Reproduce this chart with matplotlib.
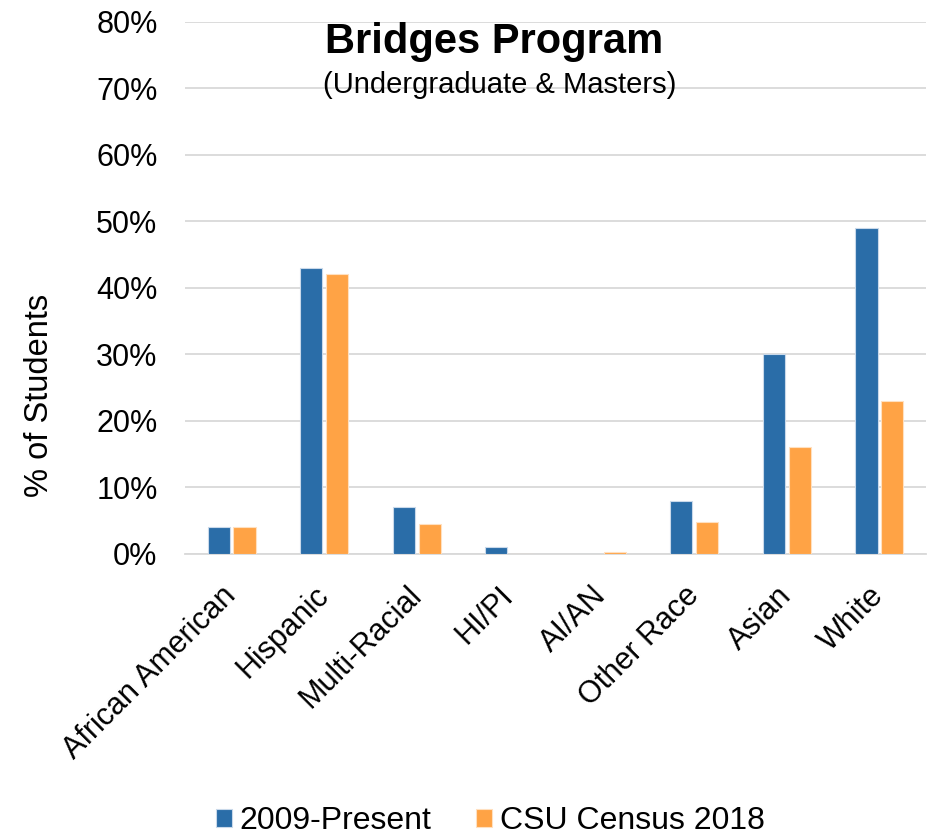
import numpy as np
import matplotlib.pyplot as plt

categories = ['African American', 'Hispanic', 'Multi-Racial', 'HI/PI', 'AI/AN',
              'Other Race', 'Asian', 'White']
bridges = [4.0, 43.0, 7.0, 1.0, 0.0, 8.0, 30.0, 49.0]
census = [4.0, 42.0, 4.5, 0.0, 0.3, 4.7, 16.0, 23.0]
series_names = ['2009-Present', 'CSU Census 2018']
yticks = [0, 10, 20, 30, 40, 50, 60, 70, 80]

plt.rcParams['font.family'] = ['Liberation Sans', 'DejaVu Sans']

fig = plt.figure(figsize=(9.36, 8.39), dpi=100)
ax = fig.add_axes([0.198, 0.340, 0.791, 0.634])

x = np.arange(len(categories))
w = 0.24
ax.bar(x - 0.14, bridges, w, color='#2A6DA8', edgecolor='#C9D9EA', linewidth=0.8,
       label=series_names[0], zorder=3)
ax.bar(x + 0.14, census, w, color='#FFA345', edgecolor='#FFE0C0', linewidth=0.8,
       label=series_names[1], zorder=3)

ax.set_xlim(-0.5, len(categories) - 0.5)
ax.set_ylim(0, 80)
ax.set_yticks(yticks)
ax.set_yticklabels(['%d%%' % t for t in yticks], fontsize=22)
ax.set_xticks(x)
ax.set_xticklabels(categories, rotation=45, ha='right', va='center',
                   rotation_mode='anchor', fontsize=22)
ax.tick_params(axis='y', length=0, pad=20)
ax.tick_params(axis='x', length=0, pad=27)
ax.grid(axis='y', color='#D9D9D9', linewidth=1.3, zorder=0)
for s in ['top', 'right', 'left']:
    ax.spines[s].set_visible(False)
ax.spines['bottom'].set_color('#D9D9D9')
ax.spines['bottom'].set_linewidth(1.3)

ax.set_ylabel('% of Students', fontsize=23.5)
ax.yaxis.set_label_coords(-0.176, 0.297)

ax.text(0.417, 0.962, 'Bridges Program', transform=ax.transAxes, ha='center',
        va='center', fontsize=30, fontweight='bold')
ax.text(0.424, 0.882, '(Undergraduate & Masters)', transform=ax.transAxes,
        ha='center', va='center', fontsize=21)

fig.legend(loc='lower center', bbox_to_anchor=(0.524, -0.031), ncol=2, frameon=False,
           fontsize=23, handlelength=0.5, handleheight=0.5, handletextpad=0.25,
           columnspacing=1.4)

fig.savefig('out.png', dpi=100)
